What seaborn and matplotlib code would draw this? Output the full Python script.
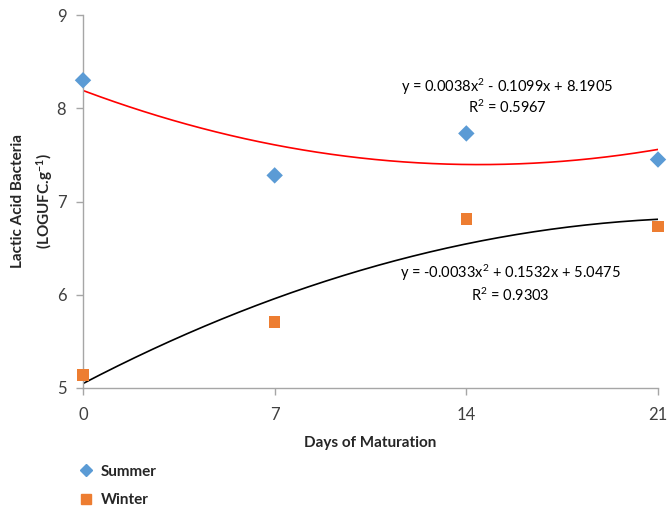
import numpy as np
import pandas as pd
import matplotlib
matplotlib.use("Agg")
import matplotlib.pyplot as plt
import seaborn as sns
from matplotlib.lines import Line2D

days = [0, 7, 14, 21]
summer = [8.30, 7.28, 7.73, 7.45]
winter = [5.14, 5.71, 6.81, 6.73]
summer_coef = [0.0038, -0.1099, 8.1905]
winter_coef = [-0.0033, 0.1532, 5.0475]
summer_eq = "y = 0.0038x$^2$ - 0.1099x + 8.1905"
summer_r2 = "R$^2$ = 0.5967"
winter_eq = "y = -0.0033x$^2$ + 0.1532x + 5.0475"
winter_r2 = "R$^2$ = 0.9303"
xticks = [0, 7, 14, 21]
yticks = [5, 6, 7, 8, 9]

sns.set_style("white")
plt.rcParams['font.family'] = ['Lato', 'DejaVu Sans']
plt.rcParams['mathtext.fontset'] = 'custom'
plt.rcParams['mathtext.rm'] = 'Lato'
plt.rcParams['mathtext.it'] = 'Lato:italic'
plt.rcParams['mathtext.bf'] = 'Lato:bold'

df = pd.DataFrame({
    "Day": days * 2,
    "Value": summer + winter,
    "Season": ["Summer"] * 4 + ["Winter"] * 4,
})

fig = plt.figure(figsize=(6.67, 5.09), dpi=100)
ax = fig.add_axes([83/667, 1 - 388/509, 575/667, 373/509])

xs = np.linspace(0, 21, 200)
ax.plot(xs, np.polyval(summer_coef, xs), color="#FF0000", lw=1.2, zorder=2)
ax.plot(xs, np.polyval(winter_coef, xs), color="#000000", lw=1.2, zorder=2)

sns.scatterplot(data=df, x="Day", y="Value", hue="Season", style="Season",
                markers={"Summer": "D", "Winter": "s"},
                palette={"Summer": "#5B9BD5", "Winter": "#ED7D31"},
                s=[70], edgecolor="none", ax=ax, zorder=3, legend=False)
for c in ax.collections:
    c.set_clip_on(False)

ax.set_xlim(0, 21)
ax.set_ylim(5, 9)
ax.set_xticks(xticks)
ax.set_yticks(yticks)
ax.tick_params(axis="both", labelsize=12, labelcolor="#404040", color="#A6A6A6",
               length=5, width=1, direction="out", left=True, bottom=True)
ax.tick_params(axis="y", pad=7)
ax.tick_params(axis="x", pad=9)
for s in ["top", "right"]:
    ax.spines[s].set_visible(False)
for s in ["left", "bottom"]:
    ax.spines[s].set_color("#A6A6A6")
    ax.spines[s].set_linewidth(1)

ax.set_xlabel("Days of Maturation", fontsize=11, fontweight="bold", labelpad=9)
ax.set_ylabel("Lactic Acid Bacteria\n(LOGUFC.g$^{\\mathbf{-1}}$)", fontsize=11,
              fontweight="bold", linespacing=1.6)
ax.yaxis.set_label_coords(-0.048, 0.5)

ax.text(15.5, 8.23, summer_eq, ha="center", va="center", fontsize=10.5, color="#000000")
ax.text(15.5, 8.01, summer_r2, ha="center", va="center", fontsize=10.5, color="#000000")
ax.text(15.6, 6.24, winter_eq, ha="center", va="center", fontsize=10.5, color="#000000")
ax.text(15.6, 5.99, winter_r2, ha="center", va="center", fontsize=10.5, color="#000000")

handles = [Line2D([], [], marker="D", color="#5B9BD5", ls="none", markersize=6),
           Line2D([], [], marker="s", color="#ED7D31", ls="none", markersize=7.5)]
leg = fig.legend(handles, ["Summer", "Winter"], loc="upper left",
                 bbox_to_anchor=(66/667, 1 - 454/509), frameon=False,
                 prop={"weight": "bold", "size": 11}, labelspacing=0.95,
                 handletextpad=0.4, handlelength=1.2, borderpad=0.2)

fig.savefig("out.png", dpi=100)
